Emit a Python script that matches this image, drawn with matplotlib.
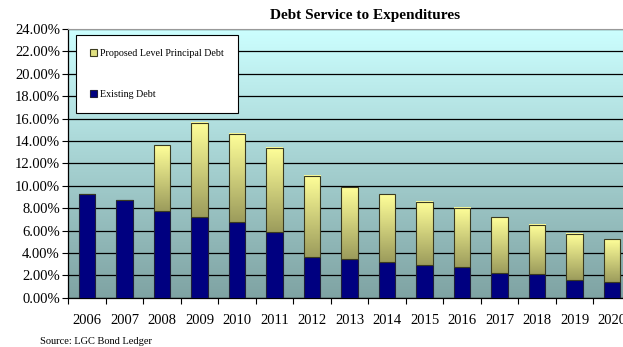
import numpy as np
import matplotlib
matplotlib.use("Agg")
import matplotlib.pyplot as plt
from matplotlib.colors import LinearSegmentedColormap
from matplotlib.patches import Patch

years = ["2006", "2007", "2008", "2009", "2010", "2011", "2012", "2013",
         "2014", "2015", "2016", "2017", "2018", "2019", "2020"]
existing = [9.30, 8.72, 7.74, 7.20, 6.73, 5.86, 3.60, 3.43, 3.21, 2.89,
            2.71, 2.23, 2.09, 1.55, 1.43]
total = [9.30, 8.72, 13.63, 15.63, 14.64, 13.37, 10.87, 9.86, 9.23, 8.57,
         7.98, 7.20, 6.52, 5.71, 5.27]
proposed = [t - e for t, e in zip(total, existing)]
yticks = np.arange(0, 25, 2)

plt.rcParams["font.family"] = ["Liberation Serif", "DejaVu Serif"]

W, H = 623, 347
fig = plt.figure(figsize=(W / 100, H / 100), dpi=100)
left, right, bottom, top = 68.3, 630.8, 297.7, 29
ax = fig.add_axes([left / W, 1 - bottom / H, (right - left) / W, (bottom - top) / H])

x = np.arange(len(years))
ax.set_xlim(-0.5, len(years) - 0.5)
ax.set_ylim(0, 24)

# background gradient
bg = LinearSegmentedColormap.from_list("bg", ["#7fa3a3", "#ccffff"])
ax.imshow(np.linspace(0, 1, 256).reshape(-1, 1), cmap=bg, origin="lower",
          extent=(0, 1, 0, 1), transform=ax.transAxes, aspect="auto", zorder=0)

ax.set_yticks(yticks)
ax.set_yticklabels([f"{v:.2f}%" for v in yticks], fontsize=10.5)
ax.yaxis.grid(True, color="black", linewidth=0.9, zorder=1)
ax.set_axisbelow(True)

width = 0.43
ax.bar(x, existing, width, color="#000080", edgecolor="#20203a", linewidth=0.8, zorder=3)
ybars = ax.bar(x, proposed, width, bottom=existing, color="none",
               edgecolor="#3a3a20", linewidth=0.8, zorder=4)

yel = LinearSegmentedColormap.from_list("yel", ["#9c9c5c", "#ffff99"])
grad = np.linspace(0, 1, 128).reshape(-1, 1)
for b in ybars:
    if b.get_height() <= 0:
        continue
    ax.imshow(grad, cmap=yel, origin="lower", aspect="auto", zorder=3.5,
              extent=(b.get_x(), b.get_x() + b.get_width(),
                      b.get_y(), b.get_y() + b.get_height()))

ax.set_xticks(x)
ax.set_xticklabels(years, fontsize=10.5)
ax.set_xticks(np.arange(-0.5, len(years)), minor=True)
ax.tick_params(axis="x", which="major", length=0, pad=11.5)
ax.tick_params(axis="x", which="minor", length=4, width=0.8)
ax.tick_params(axis="y", length=4, width=0.8, pad=2)

for s in ["left", "bottom"]:
    ax.spines[s].set_color("black")
    ax.spines[s].set_linewidth(0.9)
ax.spines["top"].set_color("#999999")
ax.spines["right"].set_visible(False)

handles = [Patch(facecolor="#e0e080", edgecolor="#3a3a20", linewidth=0.8),
           Patch(facecolor="#000080", edgecolor="#20203a", linewidth=0.8)]
leg = ax.legend(handles, ["Proposed Level Principal Debt", "Existing Debt"],
                loc="upper left", bbox_to_anchor=(76 / W, 1 - 35 / H),
                bbox_transform=fig.transFigure, fontsize=7.2,
                handlelength=0.7, handleheight=0.7, handletextpad=0.3,
                labelspacing=3.2, borderpad=1.4, borderaxespad=0,
                fancybox=False, framealpha=1, edgecolor="black")
leg.get_frame().set_linewidth(0.8)
leg.set_zorder(10)

fig.text(365 / W, 1 - 16 / H, "Debt Service to Expenditures", ha="center",
         va="center", fontsize=11, fontweight="bold")
fig.text(40 / W, 1 - 341 / H, "Source: LGC Bond Ledger", ha="left",
         va="center", fontsize=7.5)

fig.savefig("out.png", dpi=100)
